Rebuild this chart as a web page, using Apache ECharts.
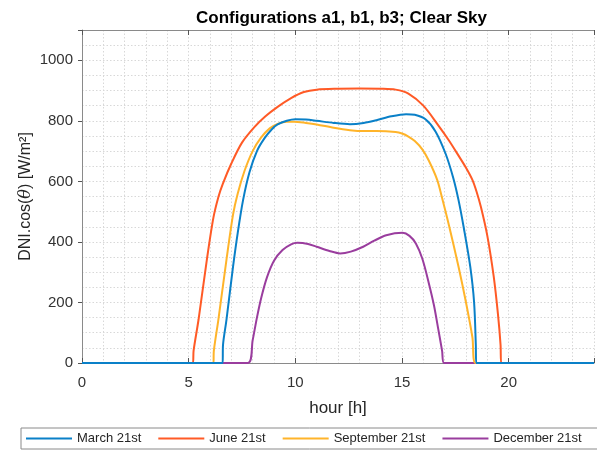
<!DOCTYPE html>
<html>
<head>
<meta charset="utf-8">
<script src="https://cdn.jsdelivr.net/npm/echarts@6/dist/echarts.min.js"></script>
<style>html,body{margin:0;padding:0;background:#fff}#c{width:597px;height:452px}</style>
</head>
<body>
<div id="c"></div>
<script>
const seriesNames = ['March 21st', 'June 21st', 'September 21st', 'December 21st'];
const xTicks = [0, 5, 10, 15, 20];
const yTicks = [0, 200, 400, 600, 800, 1000];

const march = [[0,0],[6.59,0],[6.61,60],[6.77,142],[7.08,318],[7.3,430],[7.55,538],[7.85,630],[8.2,700],[8.55,742],[8.9,772],[9.17,788],[9.6,800],[10.0,805],[10.5,804],[11.0,800],[11.8,793],[12.56,789],[13.2,793],[13.8,802],[14.5,815],[15.19,822],[15.6,820],[16.1,805],[16.57,765],[17.04,692],[17.4,612],[17.65,538],[17.9,445],[18.2,318],[18.38,200],[18.46,60],[18.48,0],[24,0]];
const june = [[0,0],[5.2,0],[5.23,40],[5.46,142],[5.85,340],[6.16,480],[6.4,550],[6.6,592],[7.0,659],[7.5,728],[8.09,780],[8.6,815],[9.17,846],[9.8,875],[10.4,895],[11,903],[12,906],[13,907],[14,906],[14.7,903],[15.3,890],[16.0,850],[16.7,785],[17.2,735],[17.65,685],[18.0,645],[18.3,605],[18.5,565],[18.7,515],[19.0,420],[19.3,285],[19.5,160],[19.62,60],[19.65,0],[24,0]];
const september = [[0,0],[6.16,0],[6.18,40],[6.39,142],[6.77,340],[7.08,490],[7.3,560],[7.62,635],[8.0,700],[8.4,745],[8.8,775],[9.17,790],[9.6,797],[9.94,797],[10.5,793],[11.0,788],[11.8,777],[12.56,769],[13.2,766],[13.8,766],[14.7,763],[15.0,758],[15.3,748],[15.6,733],[15.96,705],[16.26,668],[16.65,605],[16.88,545],[17.2,455],[17.65,318],[18.0,200],[18.3,85],[18.44,0],[24,0]];
const december = [[0,0],[7.78,0],[8.0,75],[8.2,150],[8.4,215],[8.67,283],[9.0,338],[9.4,373],[9.8,392],[10.1,397],[10.6,393],[11.0,384],[11.6,370],[12.1,362],[12.6,368],[13.18,384],[13.7,404],[14.26,422],[15.03,430],[15.35,420],[15.65,395],[15.95,345],[16.26,263],[16.5,190],[16.7,112],[16.88,40],[16.97,0],[24,0]];

const colors = ['#0a80c8', '#ff5a26', '#ffb42a', '#9a3d9e'];
const allData = [march, june, september, december];

const font = '"Liberation Sans", Arial, Helvetica, sans-serif';
const gridStyle = {show: true, lineStyle: {color: '#d8d8d8', type: [1.5, 2], width: 1}};

const chart = echarts.init(document.getElementById('c'), null, {renderer: 'canvas'});
chart.setOption({
  animation: false,
  backgroundColor: '#fff',
  title: {
    text: 'Configurations a1, b1, b3; Clear Sky',
    left: 196, top: 10, padding: 0,
    textStyle: {fontFamily: font, fontSize: 17, fontWeight: 'bold', color: '#000'}
  },
  legend: {
    data: seriesNames,
    left: 21, top: 428, width: 640,
    padding: [4, 40, 4, 5],
    borderColor: '#8a8a8a', borderWidth: 1,
    icon: 'rect', itemWidth: 46, itemHeight: 2, itemGap: 17,
    textStyle: {fontFamily: font, fontSize: 13, color: '#262626'}
  },
  grid: {left: 82, right: -3, top: 30, bottom: 89, containLabel: false},
  xAxis: [{
    type: 'value', min: 0, max: 24, interval: 5,
    name: 'hour [h]', nameLocation: 'middle', nameGap: 37, nameMoveOverlap: false,
    nameTextStyle: {fontFamily: font, fontSize: 17, color: '#262626'},
    axisLine: {show: true, onZero: false, lineStyle: {color: '#8a8a8a', width: 1}},
    axisTick: {show: true, inside: true, length: 5, lineStyle: {color: '#555'}},
    axisLabel: {fontFamily: font, fontSize: 15, color: '#333', margin: 12,
      formatter: v => xTicks.includes(v) ? String(v) : ''},
    splitLine: gridStyle,
    minorTick: {show: false, splitNumber: 5},
    minorSplitLine: gridStyle
  }, {
    type: 'value', min: 0, max: 24, interval: 5, position: 'top',
    axisLine: {show: true, onZero: false, lineStyle: {color: '#8a8a8a', width: 1}},
    axisTick: {show: true, inside: true, length: 5, lineStyle: {color: '#555'}},
    axisLabel: {show: false},
    splitLine: {show: false}
  }],
  yAxis: {
    type: 'value', min: 0, max: 1100, interval: 200,
    name: 'DNI.cos({i|θ}) [W/m²]', nameLocation: 'middle', nameGap: 48, nameMoveOverlap: false,
    nameTextStyle: {fontFamily: font, fontSize: 16, color: '#262626',
      rich: {i: {fontFamily: '"DejaVu Serif", serif', fontStyle: 'italic', fontSize: 16, color: '#262626'}}},
    axisLine: {show: true, lineStyle: {color: '#8a8a8a', width: 1}},
    axisTick: {show: true, inside: false, length: 4, lineStyle: {color: '#555'}},
    axisLabel: {fontFamily: font, fontSize: 15, color: '#333', margin: 9,
      formatter: v => yTicks.includes(v) ? String(v) : ''},
    splitLine: gridStyle,
    minorTick: {show: false, splitNumber: 4},
    minorSplitLine: gridStyle
  },
  series: seriesNames.map((n, i) => ({
    name: n, type: 'line', data: allData[i],
    showSymbol: false, symbol: 'none', smooth: 0.3,
    lineStyle: {color: colors[i], width: 2}, itemStyle: {color: colors[i]},
    z: 10 - i
  }))
});
</script>
</body>
</html>
